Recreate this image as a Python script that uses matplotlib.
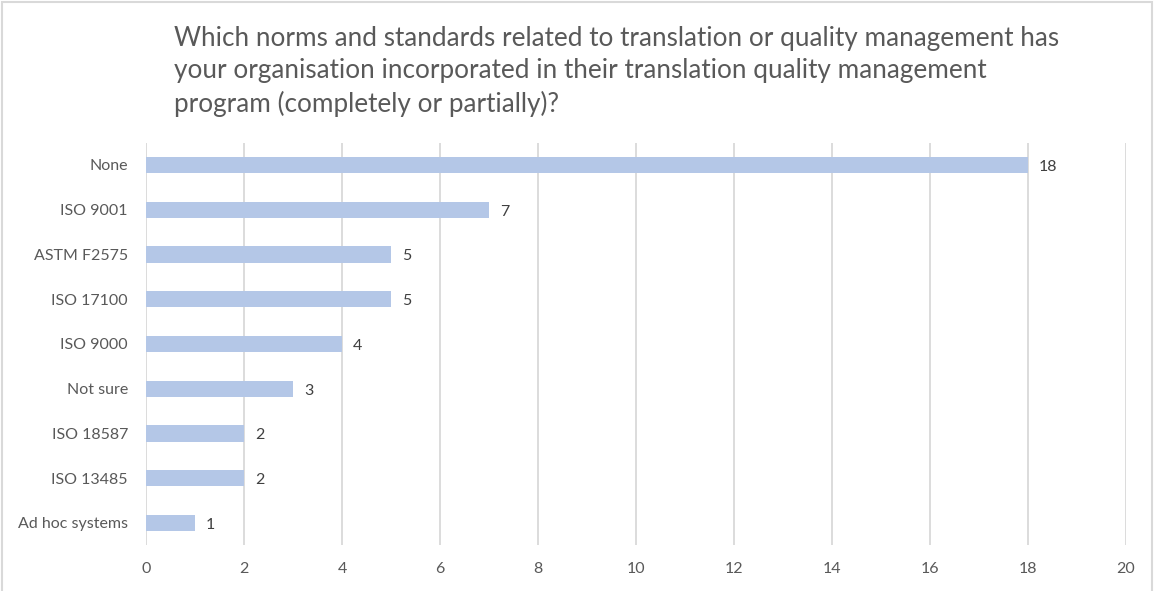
import matplotlib
matplotlib.use("Agg")
import matplotlib.pyplot as plt
from matplotlib.patches import Rectangle

categories = ["None", "ISO 9001", "ASTM F2575", "ISO 17100", "ISO 9000",
              "Not sure", "ISO 18587", "ISO 13485", "Ad hoc systems"]
counts = [18, 7, 5, 5, 4, 3, 2, 2, 1]
xticks = [0, 2, 4, 6, 8, 10, 12, 14, 16, 18, 20]

title = ("Which norms and standards related to translation or quality management has\n"
         "your organisation incorporated in their translation quality management\n"
         "program (completely or partially)?")

plt.rcParams["font.family"] = ["Lato", "DejaVu Sans"]
text_col = "#595959"
grid_col = "#D9D9D9"
bar_col = "#B4C7E7"

fig = plt.figure(figsize=(11.57, 5.91), dpi=100)
ax = fig.add_axes([0.1262, 0.0772, 0.8470, 0.6815])

ypos = list(range(len(categories)))
ax.barh(ypos, counts, height=0.36, color=bar_col, zorder=3)
for y, v in zip(ypos, counts):
    ax.text(v + 0.22, y + 0.04, str(v), va="center", ha="left", fontsize=11.5, color="#404040")

ax.set_ylim(len(categories) - 0.5, -0.5)
ax.set_xlim(0, 20)
ax.set_yticks(ypos)
ax.set_yticklabels(categories)
ax.set_xticks(xticks)
ax.tick_params(axis="both", length=0, colors=text_col, labelsize=11.5)
ax.tick_params(axis="y", pad=13)
ax.tick_params(axis="x", pad=12)
ax.grid(axis="x", color=grid_col, linewidth=1.3, zorder=0)
for s in ax.spines.values():
    s.set_visible(False)

fig.text(0.1504, 0.956, title, ha="left", va="top", fontsize=18.8,
         color=text_col, linespacing=1.37)

# outer chart frame
fig.patches.append(Rectangle((0.002, -0.01), 0.994, 1.006, transform=fig.transFigure,
                             fill=False, edgecolor=grid_col, linewidth=1.5))

fig.savefig("out.png", dpi=100)
